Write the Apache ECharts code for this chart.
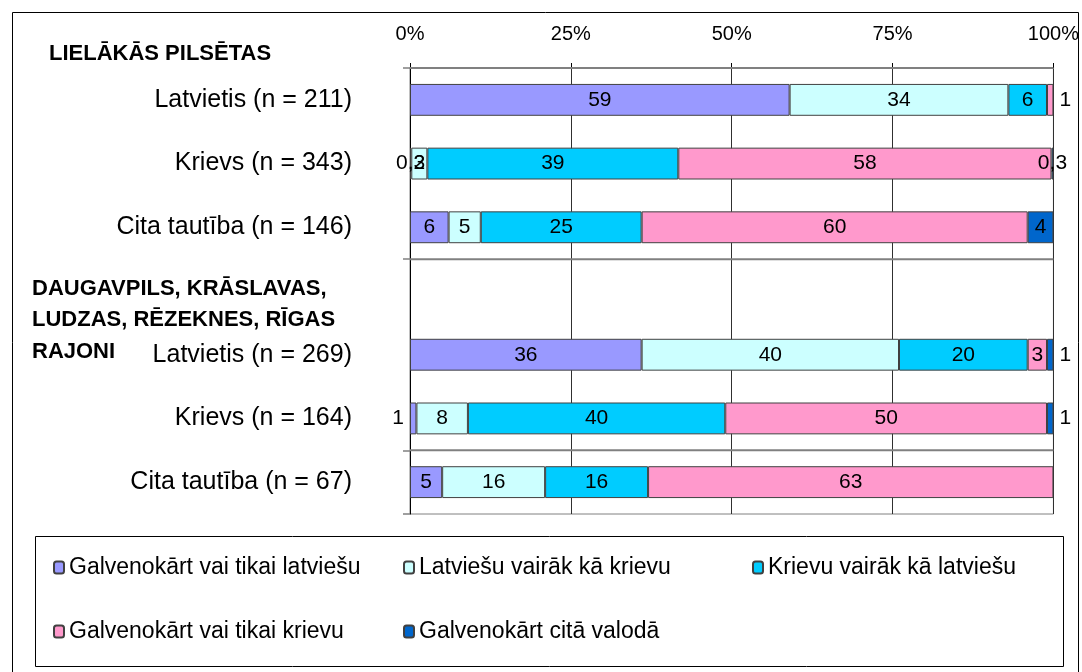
<!DOCTYPE html>
<html>
<head>
<meta charset="utf-8">
<script src="https://cdn.jsdelivr.net/npm/echarts@6.0.0/dist/echarts.min.js"></script>
<style>
  html, body { margin: 0; padding: 0; background: #fff; }
  #chart { width: 1082px; height: 672px; }
</style>
</head>
<body>
<div id="chart"></div>
<script>
// rindas (tukšā rinda atdala abas grupas)
const categories = [
  'Latvietis (n = 211)',
  'Krievs (n = 343)',
  'Cita tautība (n = 146)',
  '',
  'Latvietis (n = 269)',
  'Krievs (n = 164)',
  'Cita tautība (n = 67)'
];
const seriesNames = [
  'Galvenokārt vai tikai latviešu',
  'Latviešu vairāk kā krievu',
  'Krievu vairāk kā latviešu',
  'Galvenokārt vai tikai krievu',
  'Galvenokārt citā valodā'
];
// procenti
const onlyLatvian   = [59, 0.2, 6, null, 36, 1, 5];
const moreLatvian   = [34, 2.5, 5, null, 40, 8, 16];
const moreRussian   = [6, 39, 25, null, 20, 40, 16];
const onlyRussian   = [1, 58, 60, null, 3, 50, 63];
const otherLanguage = [null, 0.3, 4, null, 1, 1, null];
const tickLabels = ['0%', '25%', '50%', '75%', '100%'];
const groupTitles = ['LIELĀKĀS PILSĒTAS', 'DAUGAVPILS, KRĀSLAVAS,\nLUDZAS, RĒZEKNES, RĪGAS\nRAJONI'];

const values = [onlyLatvian, moreLatvian, moreRussian, onlyRussian, otherLanguage];
const colors = ['#9999FF', '#CCFFFF', '#00CCFF', '#FF99CC', '#0066CC'];
// mazajiem gabaliem etiķete ārpus stabiņa
const outsideLabel = [{ 5: 'left' }, {}, {}, { 0: 'right' }, { 4: 'right', 5: 'right' }];
// rindas, virs kurām ir atdalošā līnija
const groupStarts = [0, 3, 6];
const legendLeft = [53, 403, 752, 53, 403];
const legendTop = [556, 556, 556, 620, 620];

const font = 'Liberation Sans, Arial, sans-serif';

const chart = echarts.init(document.getElementById('chart'));

const series = seriesNames.map((name, s) => ({
  name: name,
  type: 'bar',
  stack: 'total',
  barWidth: '50%',
  itemStyle: { color: colors[s], borderColor: '#404040', borderWidth: 1 },
  label: {
    show: true,
    position: 'inside',
    color: '#000',
    fontFamily: font,
    fontSize: 21,
    formatter: (p) => p.value < 1 ? String(p.value).replace('.', ',') : String(Math.round(p.value))
  },
  data: values[s].map((v, i) => outsideLabel[s][i] ? { value: v, label: { position: outsideLabel[s][i], distance: 6 } } : v)
}));

// atdalošās līnijas starp grupām: katra kā atsevišķa līnija no 0% līdz 100% uz slēptas rindu ass
groupStarts.forEach((r, k) => {
  series.push({
    name: 'separator' + k,
    type: 'line',
    yAxisIndex: 1,
    z: 10,
    silent: true,
    symbol: 'none',
    lineStyle: { color: '#808080', width: 2 },
    data: [[0, r], [100, r]]
  });
});

const option = {
  animation: false,
  backgroundColor: '#fff',
  grid: { left: 410, right: 27, top: 68, bottom: 158, show: true, borderColor: '#808080', borderWidth: 1 },
  xAxis: {
    type: 'value',
    position: 'top',
    min: 0,
    max: 100,
    interval: 25,
    axisLine: { show: true, lineStyle: { color: '#808080', width: 1.5 } },
    axisTick: { show: true, length: 5, lineStyle: { color: '#000' } },
    axisLabel: {
      margin: 24,
      color: '#000',
      fontFamily: font,
      fontSize: 20,
      formatter: (v) => tickLabels[v / 25]
    },
    splitLine: { show: true, lineStyle: { color: '#303030', width: 1 } }
  },
  yAxis: [{
    type: 'category',
    inverse: true,
    data: categories,
    axisLine: { show: true, lineStyle: { color: '#000' } },
    axisTick: { show: true, length: 7, interval: (i) => groupStarts.indexOf(i) >= 0, lineStyle: { color: '#808080', width: 1.5 } },
    splitLine: { show: false },
    axisLabel: { margin: 58, color: '#000', fontFamily: font, fontSize: 25 }
  }, {
    type: 'value',
    inverse: true,
    min: 0,
    max: categories.length,
    show: false
  }],
  legend: seriesNames.map((name, i) => ({
    data: [name],
    left: legendLeft[i],
    top: legendTop[i],
    padding: 0,
    itemWidth: 10,
    itemHeight: 12,
    itemGap: 0,
    textStyle: { color: '#000', fontFamily: font, fontSize: 23 }
  })),
  graphic: [
    { type: 'rect', left: 10, top: 10, shape: { width: 1066, height: 700 }, style: { fill: 'none', stroke: '#000', lineWidth: 1 }, silent: true, z: -1 },
    { type: 'rect', left: 33, top: 534, shape: { width: 1028, height: 130 }, style: { fill: 'none', stroke: '#000', lineWidth: 1 }, silent: true },
    { type: 'text', left: 49, top: 43, style: { text: groupTitles[0], font: 'bold 22px ' + font, fill: '#000' } },
    { type: 'text', left: 32, top: 273, style: { text: groupTitles[1], font: 'bold 22px ' + font, fill: '#000', lineHeight: 31.5 } }
  ],
  series: series
};

chart.setOption(option);
</script>
</body>
</html>
